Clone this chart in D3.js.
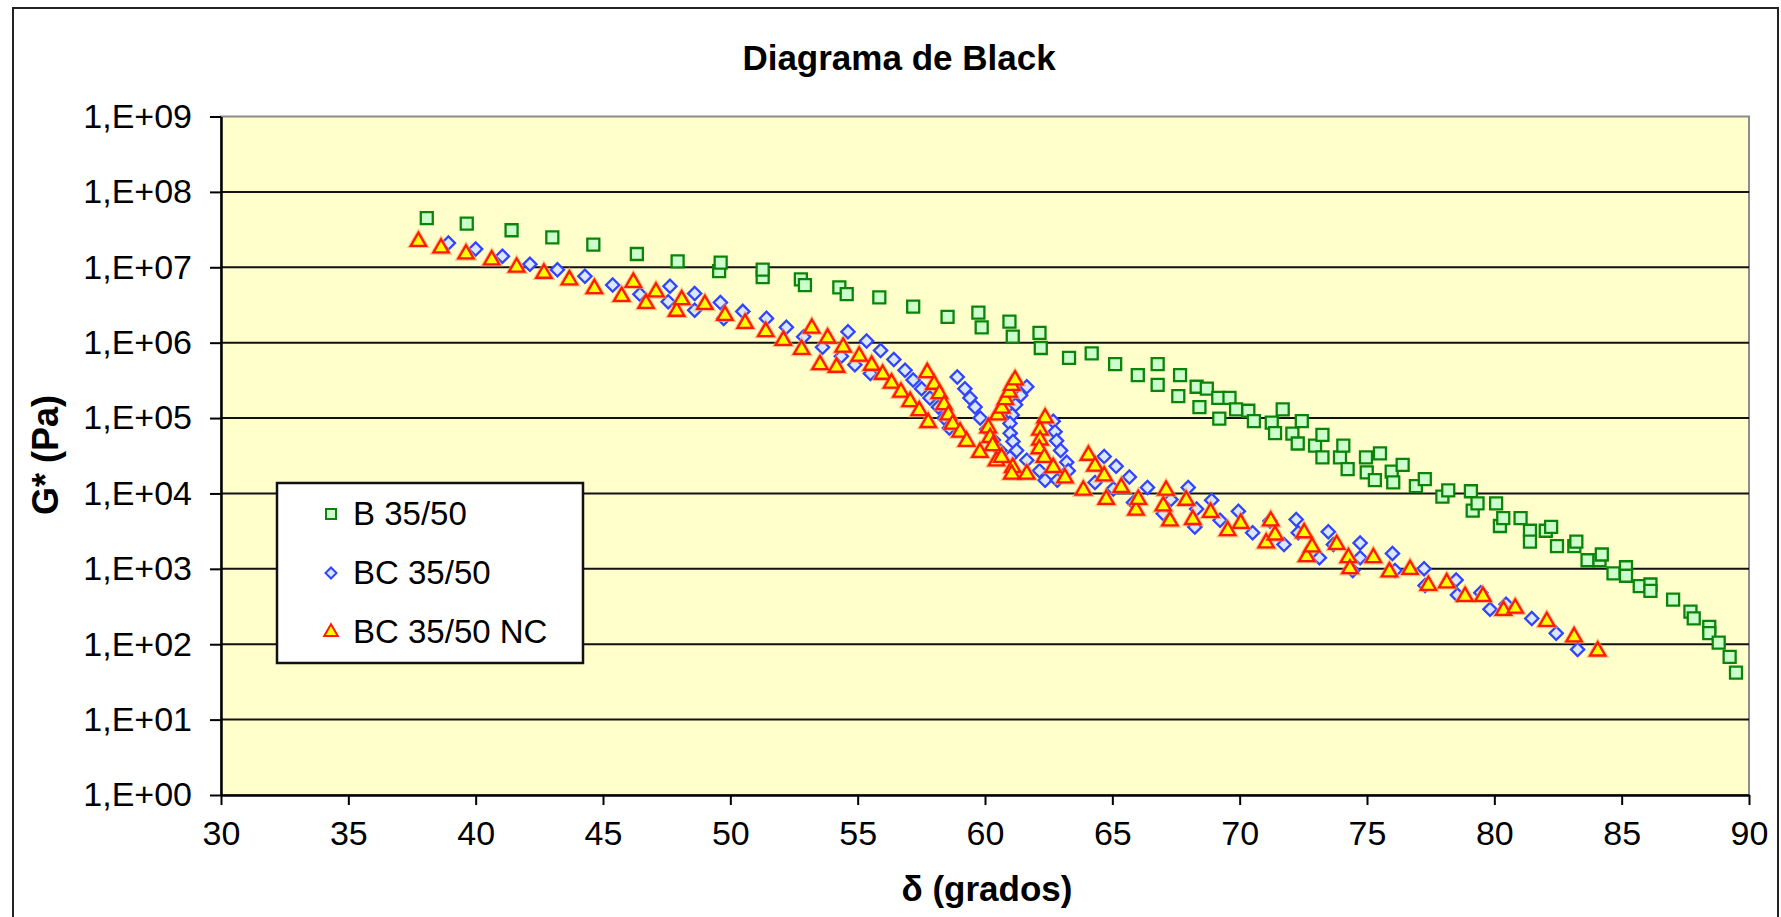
<!DOCTYPE html>
<html>
<head>
<meta charset="utf-8">
<script src="https://cdn.jsdelivr.net/npm/d3@7"></script>
<style>
  html, body { margin: 0; padding: 0; background: #fff; }
  svg { display: block; font-family: "Liberation Sans", Arial, sans-serif; }
</style>
</head>
<body>
<svg id="black" width="1781" height="917"></svg>
<script>
// B 35/50 (squares)
const bDelta = [38.08, 39.65, 41.41, 43.01, 44.62, 46.33, 47.93, 49.56, 49.62, 51.27, 51.27, 52.77, 52.93,
  54.28, 54.57, 55.85, 57.18, 58.53, 59.74, 59.87, 60.96, 61.09, 62.14, 62.19, 63.3, 64.19, 65.11, 66.0,
  66.78, 66.78, 67.59, 67.66, 68.31, 68.42, 68.71, 69.16, 69.2, 69.6, 69.86, 70.34, 70.56, 71.26, 71.39,
  71.69, 72.07, 72.28, 72.44, 72.96, 73.25, 73.25, 73.94, 74.07, 74.24, 74.96, 74.99, 75.31, 75.51, 75.97,
  76.03, 76.4, 76.92, 77.27, 77.96, 78.19, 79.08, 79.15, 79.34, 80.07, 80.22, 80.35, 81.03, 81.4, 81.4,
  82.02, 82.23, 82.46, 83.14, 83.22, 83.66, 84.13, 84.22, 84.68, 85.17, 85.17, 85.71, 86.13, 86.13, 87.02,
  87.7, 87.83, 88.44, 88.44, 88.81, 89.24, 89.49];
const bG = [4.5e7, 3.8e7, 3.1e7, 2.5e7, 2.0e7, 1.5e7, 1.2e7, 8.9e6, 1.15e7, 7.4e6, 9.3e6, 6.9e6, 5.8e6,
  5.4e6, 4.4e6, 4.0e6, 3.0e6, 2.2e6, 2.5e6, 1.6e6, 1.9e6, 1.2e6, 1.35e6, 8.5e5, 6.3e5, 7.2e5, 5.2e5, 3.7e5,
  5.2e5, 2.75e5, 1.95e5, 3.7e5, 2.6e5, 1.4e5, 2.45e5, 1.85e5, 9.8e4, 1.85e5, 1.3e5, 1.25e5, 9.1e4, 8.7e4, 6.3e4,
  1.3e5, 6.2e4, 4.6e4, 9.1e4, 4.3e4, 6.0e4, 3.0e4, 3.0e4, 4.3e4, 2.1e4, 3.0e4, 1.9e4, 1.5e4, 3.4e4, 1.95e4,
  1.4e4, 2.4e4, 1.25e4, 1.55e4, 9.1e3, 1.1e4, 1.07e4, 5.9e3, 7.4e3, 7.4e3, 3.7e3, 4.7e3, 4.7e3, 3.2e3, 2.3e3,
  3.2e3, 3.6e3, 2.0e3, 2.0e3, 2.3e3, 1.3e3, 1.3e3, 1.55e3, 870, 1.05e3, 810, 590, 620, 510, 390,
  270, 220, 170, 140, 105, 68, 42];

// BC 35/50 (diamonds)
const bcDelta = [38.93, 40.0, 41.05, 42.13, 43.21, 44.29, 45.38, 46.45, 47.56, 47.63, 48.6, 48.6, 49.61,
  49.74, 50.49, 51.42, 52.2, 52.88, 53.62, 54.36, 54.62, 54.89, 55.35, 55.5, 55.9, 56.42, 56.86, 57.18,
  57.51, 57.84, 58.17, 58.4, 58.6, 58.91, 59.21, 59.41, 59.61, 59.81, 60.07, 60.33, 60.59, 60.98, 61.64,
  62.14, 62.36, 61.64, 61.4, 61.2, 61.07, 60.98, 60.99, 61.1, 61.24, 62.68, 62.75, 62.81, 62.97, 63.21,
  63.27, 62.84, 64.32, 64.68, 65.04, 65.15, 65.67, 65.83, 66.38, 67.0, 67.3, 67.98, 68.24, 68.31, 68.9,
  69.23, 69.95, 70.51, 71.19, 71.74, 72.22, 72.3, 73.13, 73.48, 73.68, 74.44, 74.73, 74.73, 76.0, 76.1,
  77.24, 77.28, 78.5, 78.55, 79.47, 79.83, 80.46, 81.47, 82.43, 83.27];
const bcG = [2.1e7, 1.75e7, 1.4e7, 1.1e7, 9.3e6, 7.6e6, 5.8e6, 4.4e6, 3.5e6, 5.6e6, 4.5e6, 2.7e6, 3.4e6,
  2.1e6, 2.6e6, 2.1e6, 1.6e6, 1.2e6, 8.7e5, 6.6e5, 1.4e6, 5.1e5, 1.05e6, 3.9e5, 7.9e5, 6.0e5, 4.3e5, 3.2e5,
  2.45e5, 1.85e5, 1.4e5, 1.0e5, 7.4e4, 3.5e5, 2.45e5, 1.85e5, 1.4e5, 1.0e5, 7.1e4, 5.1e4, 3.7e4, 3.0e4, 2.75e4,
  2.0e4, 1.5e4, 2.6e5, 2.0e5, 1.5e5, 1.1e5, 8.5e4, 6.3e4, 4.9e4, 3.7e4, 9.1e4, 6.6e4, 5.0e4, 3.7e4, 2.6e4,
  2.0e4, 1.5e4, 1.4e4, 3.1e4, 1.15e4, 2.3e4, 1.65e4, 7.6e3, 1.2e4, 5.4e3, 8.3e3, 1.2e4, 3.6e3, 6.2e3, 8.1e3,
  4.4e3, 5.8e3, 3.0e3, 4.3e3, 2.1e3, 4.5e3, 3.0e3, 1.4e3, 3.1e3, 2.1e3, 950, 2.2e3, 1.4e3, 1.6e3, 950,
  1.0e3, 600, 710, 450, 480, 290, 340, 220, 140, 85];

// BC 35/50 NC (triangles)
const ncDelta = [37.75, 38.64, 39.62, 40.63, 41.61, 42.68, 43.68, 44.66, 45.73, 46.19, 46.69, 47.08, 47.89,
  48.09, 49.0, 49.79, 50.58, 51.39, 52.08, 52.8, 53.2, 53.52, 53.82, 54.17, 54.43, 55.06, 55.55, 55.98,
  56.33, 56.7, 57.06, 57.42, 57.77, 57.73, 58.0, 58.21, 58.39, 58.56, 58.73, 59.02, 59.28, 59.8, 60.13,
  60.2, 60.3, 60.45, 60.65, 61.09, 61.05, 61.64, 60.5, 60.66, 60.8, 60.95, 61.05, 61.18, 62.36, 62.16,
  62.16, 62.13, 62.33, 62.68, 63.14, 63.86, 64.06, 64.32, 64.68, 64.76, 65.35, 65.93, 66.02, 67.0, 67.11,
  67.26, 67.9, 68.16, 68.86, 69.53, 70.04, 71.04, 71.22, 71.39, 72.53, 72.63, 72.84, 73.81, 74.27, 74.33,
  75.25, 75.88, 76.69, 77.41, 78.13, 78.85, 79.55, 80.36, 80.82, 82.06, 83.13, 84.06];
const ncG = [2.2e7, 1.8e7, 1.5e7, 1.25e7, 1.0e7, 8.3e6, 6.8e6, 5.2e6, 4.1e6, 6.3e6, 3.3e6, 4.7e6, 2.6e6,
  3.7e6, 3.2e6, 2.3e6, 1.8e6, 1.4e6, 1.07e6, 8.1e5, 1.55e6, 5.1e5, 1.15e6, 4.7e5, 8.7e5, 6.6e5, 5.0e5, 3.8e5,
  2.9e5, 2.2e5, 1.65e5, 1.25e5, 8.7e4, 4.0e5, 2.8e5, 2.1e5, 1.5e5, 1.1e5, 8.3e4, 6.5e4, 4.9e4, 3.5e4, 7.4e4,
  5.5e4, 4.3e4, 2.7e4, 3.0e4, 2.2e4, 1.8e4, 1.8e4, 1.1e5, 1.35e5, 1.75e5, 2.2e5, 2.7e5, 3.2e5, 1.0e5, 6.9e4,
  5.1e4, 3.9e4, 3.0e4, 2.2e4, 1.6e4, 1.1e4, 3.2e4, 2.3e4, 1.7e4, 8.3e3, 1.2e4, 6.0e3, 8.3e3, 6.8e3, 1.1e4,
  4.3e3, 8.1e3, 4.5e3, 5.6e3, 3.2e3, 4.0e3, 2.2e3, 4.3e3, 2.8e3, 3.0e3, 1.45e3, 1.95e3, 2.1e3, 1.4e3, 1.0e3,
  1.4e3, 910, 980, 600, 650, 430, 430, 280, 300, 200, 125, 81];

const xTicks = [30, 35, 40, 45, 50, 55, 60, 65, 70, 75, 80, 85, 90];
const yTicks = [1e0, 1e1, 1e2, 1e3, 1e4, 1e5, 1e6, 1e7, 1e8, 1e9];
const yTickLabels = ["1,E+00", "1,E+01", "1,E+02", "1,E+03", "1,E+04", "1,E+05", "1,E+06", "1,E+07", "1,E+08", "1,E+09"];
const seriesNames = ["B 35/50", "BC 35/50", "BC 35/50 NC"];

const svg = d3.select("svg#black");
const margin = { top: 116.5, right: 32, bottom: 122, left: 221 };
const width = 1781, height = 917;

svg.append("rect").attr("width", width).attr("height", height).attr("fill", "#fff");
// outer chart border (bottom runs off the picture)
svg.append("rect")
    .attr("x", 13).attr("y", 8).attr("width", 1765).attr("height", 960)
    .attr("fill", "none").attr("stroke", "#222").attr("stroke-width", 2);

const x = d3.scaleLinear().domain([30, 90]).range([margin.left, width - margin.right]);
const y = d3.scaleLog().domain([1, 1e9]).range([height - margin.bottom, margin.top]);

// plot area
svg.append("rect")
    .attr("x", x(30)).attr("y", y(1e9))
    .attr("width", x(90) - x(30)).attr("height", y(1) - y(1e9))
    .attr("fill", "#ffffcc").attr("stroke", "#8c8c8c").attr("stroke-width", 2);

// horizontal grid
svg.append("g").selectAll("line").data(yTicks.slice(1, -1)).join("line")
    .attr("x1", x(30)).attr("x2", x(90))
    .attr("y1", d => y(d)).attr("y2", d => y(d))
    .attr("stroke", "#111").attr("stroke-width", 2);

// axes
const yAxis = svg.append("g")
    .attr("transform", `translate(${x(30)},0)`)
    .call(d3.axisLeft(y).tickValues(yTicks).tickFormat((d, i) => yTickLabels[i]).tickSize(11).tickPadding(18).tickSizeOuter(0));
const xAxis = svg.append("g")
    .attr("transform", `translate(0,${y(1)})`)
    .call(d3.axisBottom(x).tickValues(xTicks).tickFormat(d3.format("d")).tickSize(10).tickPadding(14).tickSizeOuter(0));

[yAxis, xAxis].forEach(g => {
    g.select(".domain").attr("stroke", "#000").attr("stroke-width", 2.5);
    g.selectAll(".tick line").attr("stroke", "#000").attr("stroke-width", 2);
    g.selectAll(".tick text").attr("fill", "#000").style("font-size", "34px")
        .style("font-family", '"Liberation Sans", Arial, sans-serif');
});
xAxis.selectAll(".tick text").attr("dy", "0.75em");

// titles
svg.append("text").attr("x", 899).attr("y", 70).attr("text-anchor", "middle")
    .style("font-size", "35px").style("font-weight", 700).text("Diagrama de Black");
svg.append("text").attr("transform", "translate(58,455) rotate(-90)").attr("text-anchor", "middle")
    .style("font-size", "36px").style("font-weight", 700).text("G* (Pa)");
svg.append("text").attr("x", 987).attr("y", 901).attr("text-anchor", "middle")
    .style("font-size", "35px").style("font-weight", 700).text("δ (grados)");

// markers
const styles = [
    { fill: "#ccffcc", stroke: "#0a850a", path: d3.symbol(d3.symbolSquare, 144)(), rot: 0 },
    { fill: "#d9e8ff", stroke: "#3344ff", path: d3.symbol(d3.symbolSquare, 88)(), rot: 45 },
    { fill: "#ffff00", stroke: "#ff1a00", path: d3.symbol(d3.symbolTriangle, 100)(), rot: 0 },
];
const series = [
    bDelta.map((d, i) => ({ d, g: bG[i] })),
    bcDelta.map((d, i) => ({ d, g: bcG[i] })),
    ncDelta.map((d, i) => ({ d, g: ncG[i] })),
];

series.forEach((pts, s) => {
    const st = styles[s];
    const g = svg.append("g");
    if (s === 2) {
        // soft orange rim round the triangles
        g.selectAll("path.halo").data(pts).join("path").attr("class", "halo")
            .attr("d", st.path)
            .attr("transform", p => `translate(${x(p.d)},${y(p.g)})`)
            .attr("fill", "none").attr("stroke", "#ff9a55").attr("stroke-opacity", 0.6).attr("stroke-width", 4.5);
    }
    g.selectAll("path.mark").data(pts).join("path").attr("class", "mark")
        .attr("d", st.path)
        .attr("transform", p => `translate(${x(p.d)},${y(p.g)}) rotate(${st.rot})`)
        .attr("fill", st.fill).attr("stroke", st.stroke).attr("stroke-width", 2.3);
});

// legend
const legend = svg.append("g");
legend.append("rect").attr("x", 277).attr("y", 483).attr("width", 306).attr("height", 180)
    .attr("fill", "#fff").attr("stroke", "#111").attr("stroke-width", 2.5);
const legY = [514, 573, 632];
const legSymbols = [
    d3.symbol(d3.symbolSquare, 100)(),
    d3.symbol(d3.symbolSquare, 60)(),
    d3.symbol(d3.symbolTriangle, 80)(),
];
seriesNames.forEach((name, i) => {
    legend.append("path").attr("d", legSymbols[i])
        .attr("transform", `translate(331,${legY[i]}) rotate(${styles[i].rot})`)
        .attr("fill", styles[i].fill).attr("stroke", styles[i].stroke).attr("stroke-width", 2);
    legend.append("text").attr("x", 353).attr("y", legY[i] + 11)
        .style("font-size", "33px").attr("fill", "#000").text(name);
});
</script>
</body>
</html>
